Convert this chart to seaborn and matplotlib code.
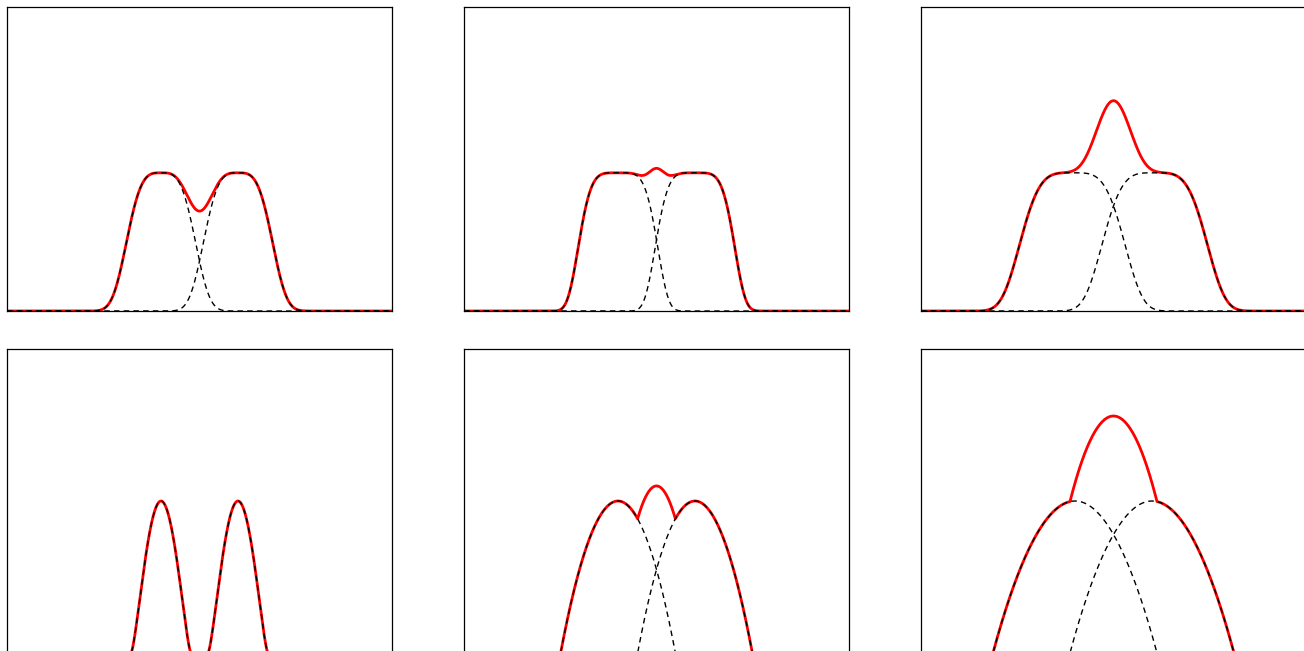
import numpy as np
import pandas as pd
import matplotlib.pyplot as plt
import seaborn as sns

plt.switch_backend('Agg')
sns.set_style("white")

# Per-panel parameters (x in units, axis spans -5..5)
top_half_sep = [1.0, 1.0, 1.07]
top_width = [0.995, 1.09, 1.48]
top_power = [3.5, 4.8, 4.0]
bottom_half_sep = [1.0, 1.0, 1.0]
bottom_radius = [0.78, 1.49, 2.13]
bottom_power = [1.5, 1.0, 1.0]
peak_height = [1.0, 1.0, 1.0]

x_grid = np.linspace(-5, 5, 2001)


def flat_top(x, c, w, p, a):
    return a * np.exp(-np.abs((x - c) / w) ** p)


def clipped_bump(x, c, r, n, a):
    return a * np.clip(1 - ((x - c) / r) ** 2, 0, None) ** n


fig = plt.figure(figsize=(13.04, 6.51), dpi=100)
col_left = [7 / 1304, 464 / 1304, 921 / 1304]
ax_w = 385 / 1304
ax_h = 304 / 651
row_bottom = [(651 - 311) / 651, (651 - 653) / 651]

for i in range(3):
    for row in range(2):
        ax = fig.add_axes([col_left[i], row_bottom[row], ax_w, ax_h])
        if row == 0:
            h = top_half_sep[i]
            left = flat_top(x_grid, -h, top_width[i], top_power[i], peak_height[i])
            right = flat_top(x_grid, h, top_width[i], top_power[i], peak_height[i])
            ylim = 2.2
        else:
            h = bottom_half_sep[i]
            left = clipped_bump(x_grid, -h, bottom_radius[i], bottom_power[i], peak_height[i])
            right = clipped_bump(x_grid, h, bottom_radius[i], bottom_power[i], peak_height[i])
            ylim = 2.0
        df = pd.DataFrame({'x': x_grid, 'left': left, 'right': right, 'total': left + right})

        sns.lineplot(data=df, x='x', y='total', ax=ax, color='red', linewidth=2,
                     estimator=None, zorder=2)
        for col in ['left', 'right']:
            sns.lineplot(data=df, x='x', y=col, ax=ax, color='black', linewidth=1,
                         linestyle=(0, (4, 3)), estimator=None, zorder=3)

        ax.set_xlim(-5, 5)
        ax.set_ylim(0, ylim)
        ax.set_xticks([])
        ax.set_yticks([])
        ax.set_xlabel('')
        ax.set_ylabel('')
        for s in ax.spines.values():
            s.set_color('black')
            s.set_linewidth(0.9)

plt.savefig('out.png', dpi=100)
plt.close('all')
